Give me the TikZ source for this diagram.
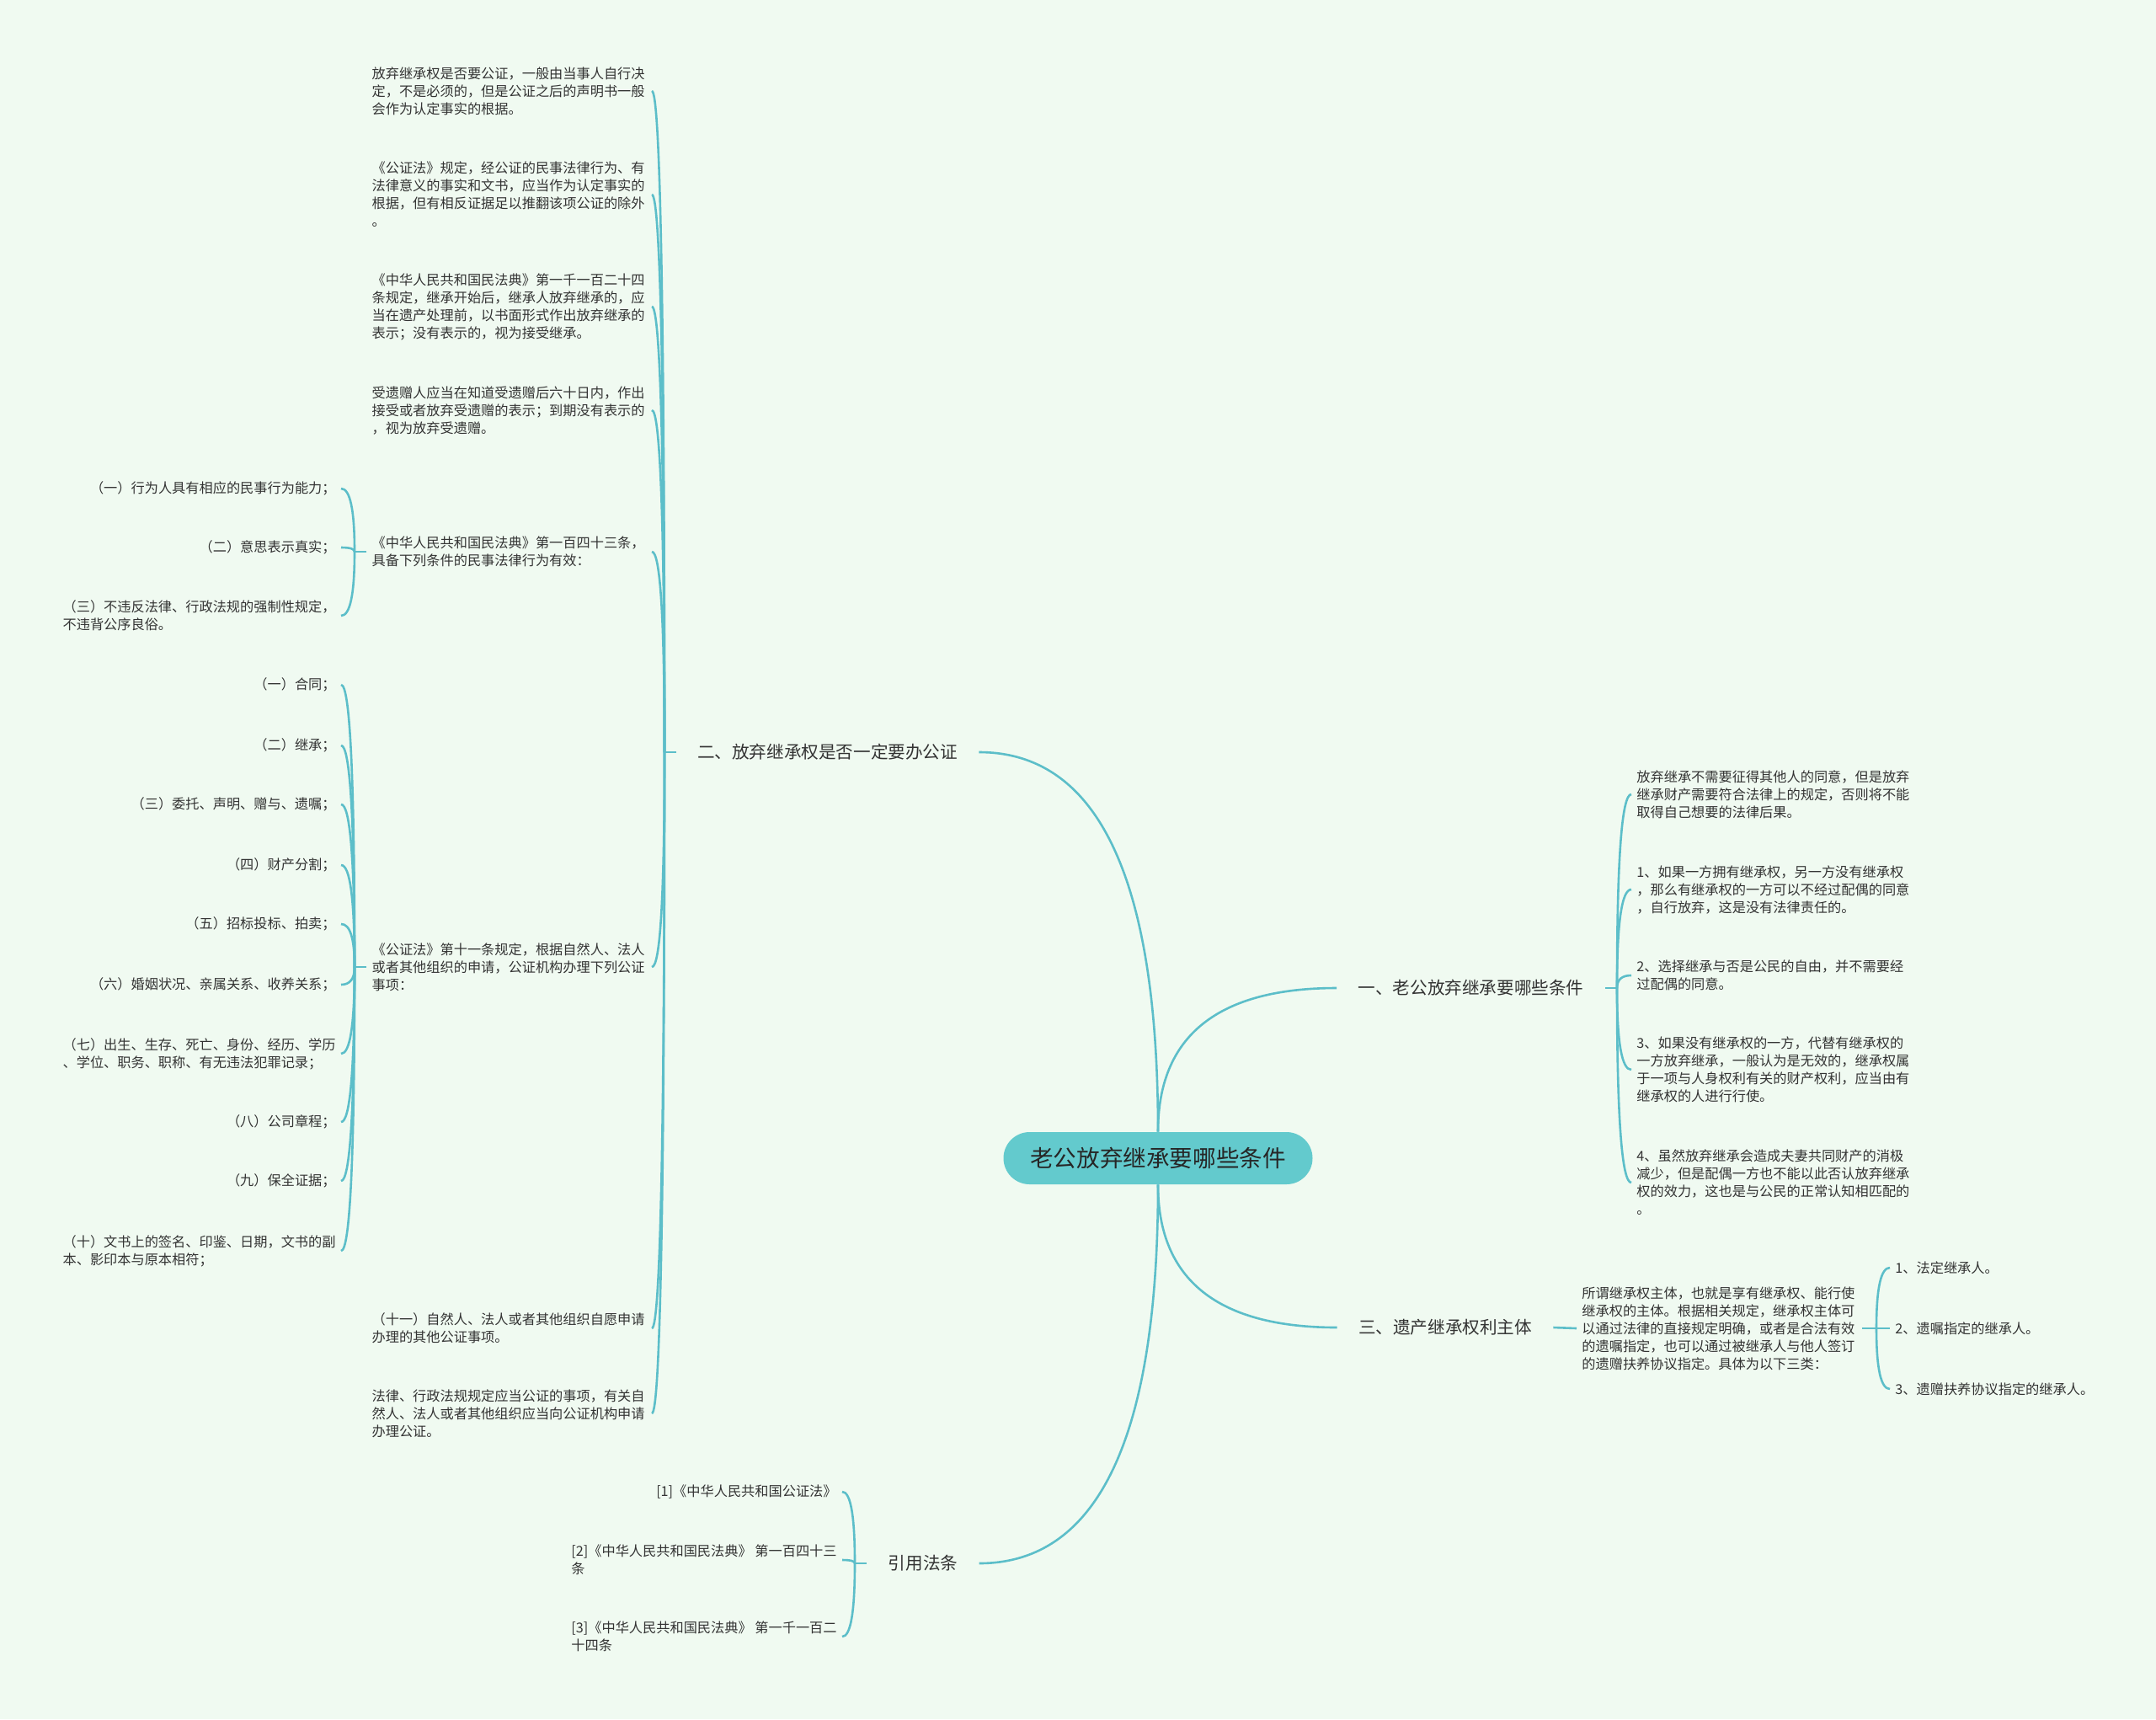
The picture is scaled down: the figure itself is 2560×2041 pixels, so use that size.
\documentclass[tikz,border=0pt]{standalone}
\usepackage{fontspec}
\setmainfont{Noto Sans CJK SC}
\usetikzlibrary{calc}
\definecolor{mint}{RGB}{240,250,241}
\definecolor{twig}{RGB}{92,190,201}
\definecolor{hub}{RGB}{99,202,205}
\definecolor{ink}{RGB}{51,51,51}

\begin{document}
\begin{tikzpicture}[
  x=0.5pt, y=-0.5pt,
  font=\fontsize{8.1}{10.5}\selectfont, text=ink,
  link/.style={draw=twig, line width=1.3pt},
  curvy/.style={to path={.. controls ($(\tikztostart)!2/3!(\tikztostart|-\tikztotarget)$)
      and ($(\tikztotarget)!2/3!(\tikztostart|-\tikztotarget)$) .. (\tikztotarget)}},
  root/.style={fill=hub, rounded corners=15.5pt, minimum width=183.5pt, minimum height=31pt,
    font=\fontsize{13.8}{16}\selectfont, text=black!85},
  branch/.style={inner xsep=12.5pt, font=\fontsize{10.3}{12}\selectfont},
  leaf/.style={inner xsep=3pt, inner ysep=2pt, align=left},
  para/.style={leaf, text width=163pt},
]
\fill[mint] (0,0) rectangle (2560,2041);
\useasboundingbox (0,0) rectangle (2560,2041);

\node[root] (c0) at (1375,1375) {老公放弃继承要哪些条件};

\node[branch] (b2) at (982.5,893) {二、放弃继承权是否一定要办公证};
\node[branch] (b1) at (1746.5,1173) {一、老公放弃继承要哪些条件};
\node[branch] (b3) at (1716,1576) {三、遗产继承权利主体};
\node[branch] (b4) at (1096,1856) {引用法条};

\coordinate (p2) at (789,893);
\coordinate (p1) at (1920,1173);
\coordinate (p4) at (1015,1856);
\coordinate (k25) at (421,655);
\coordinate (k26) at (421,1148);
\coordinate (k3) at (2228,1577);

% 二
\node[para, anchor=east] (c21) at (774,108) {放弃继承权是否要公证，一般由当事人自行决\\定，不是必须的，但是公证之后的声明书一般\\会作为认定事实的根据。};
\node[para, anchor=east] (c22) at (774,231) {《公证法》规定，经公证的民事法律行为、有\\法律意义的事实和文书，应当作为认定事实的\\根据，但有相反证据足以推翻该项公证的除外\\。};
\node[para, anchor=east] (c23) at (774,364) {《中华人民共和国民法典》第一千一百二十四\\条规定，继承开始后，继承人放弃继承的，应\\当在遗产处理前，以书面形式作出放弃继承的\\表示；没有表示的，视为接受继承。};
\node[para, anchor=east] (c24) at (774,487) {受遗赠人应当在知道受遗赠后六十日内，作出\\接受或者放弃受遗赠的表示；到期没有表示的\\，视为放弃受遗赠。};
\node[para, anchor=east] (c25) at (774,655) {《中华人民共和国民法典》第一百四十三条，\\具备下列条件的民事法律行为有效：};
\node[para, anchor=east] (c26) at (774,1148) {《公证法》第十一条规定，根据自然人、法人\\或者其他组织的申请，公证机构办理下列公证\\事项：};
\node[para, anchor=east] (c27) at (774,1577) {（十一）自然人、法人或者其他组织自愿申请\\办理的其他公证事项。};
\node[para, anchor=east] (c28) at (774,1678) {法律、行政法规规定应当公证的事项，有关自\\然人、法人或者其他组织应当向公证机构申请\\办理公证。};

\node[leaf, anchor=east] (a1) at (405,580) {（一）行为人具有相应的民事行为能力；};
\node[leaf, anchor=east] (a2) at (405,650) {（二）意思表示真实；};
\node[leaf, anchor=east] (a3) at (405,731) {（三）不违反法律、行政法规的强制性规定，\\不违背公序良俗。};

\node[leaf, anchor=east] (n1) at (405,813) {（一）合同；};
\node[leaf, anchor=east] (n2) at (405,885) {（二）继承；};
\node[leaf, anchor=east] (n3) at (405,955) {（三）委托、声明、赠与、遗嘱；};
\node[leaf, anchor=east] (n4) at (405,1027) {（四）财产分割；};
\node[leaf, anchor=east] (n5) at (405,1097) {（五）招标投标、拍卖；};
\node[leaf, anchor=east] (n6) at (405,1169) {（六）婚姻状况、亲属关系、收养关系；};
\node[leaf, anchor=east] (n7) at (405,1251) {（七）出生、生存、死亡、身份、经历、学历\\、学位、职务、职称、有无违法犯罪记录；};
\node[leaf, anchor=east] (n8) at (405,1332) {（八）公司章程；};
\node[leaf, anchor=east] (n9) at (405,1402) {（九）保全证据；};
\node[leaf, anchor=east] (n10) at (405,1485) {（十）文书上的签名、印鉴、日期，文书的副\\本、影印本与原本相符；};

% 一
\node[para, anchor=west] (d11) at (1937,943) {放弃继承不需要征得其他人的同意，但是放弃\\继承财产需要符合法律上的规定，否则将不能\\取得自己想要的法律后果。};
\node[para, anchor=west] (d12) at (1937,1056) {1、如果一方拥有继承权，另一方没有继承权\\，那么有继承权的一方可以不经过配偶的同意\\，自行放弃，这是没有法律责任的。};
\node[para, anchor=west] (d13) at (1937,1158) {2、选择继承与否是公民的自由，并不需要经\\过配偶的同意。};
\node[para, anchor=west] (d14) at (1937,1270) {3、如果没有继承权的一方，代替有继承权的\\一方放弃继承，一般认为是无效的，继承权属\\于一项与人身权利有关的财产权利，应当由有\\继承权的人进行行使。};
\node[para, anchor=west] (d15) at (1937,1404) {4、虽然放弃继承会造成夫妻共同财产的消极\\减少，但是配偶一方也不能以此否认放弃继承\\权的效力，这也是与公民的正常认知相匹配的\\。};

% 三
\node[para, anchor=west] (e31) at (1872,1577) {所谓继承权主体，也就是享有继承权、能行使\\继承权的主体。根据相关规定，继承权主体可\\以通过法律的直接规定明确，或者是合法有效\\的遗嘱指定，也可以通过被继承人与他人签订\\的遗赠扶养协议指定。具体为以下三类：};
\node[leaf, anchor=west] (f1) at (2244,1505) {1、法定继承人。};
\node[leaf, anchor=west] (f2) at (2244,1577) {2、遗嘱指定的继承人。};
\node[leaf, anchor=west] (f3) at (2244,1649) {3、遗赠扶养协议指定的继承人。};

% 引用法条
\node[leaf, anchor=east] (r1) at (1000,1771) {[1]《中华人民共和国公证法》};
\node[leaf, anchor=east] (r2) at (1000,1852) {[2]《中华人民共和国民法典》 第一百四十三\\条};
\node[leaf, anchor=east] (r3) at (1000,1943) {[3]《中华人民共和国民法典》 第一千一百二\\十四条};

\draw[link] (c0.north) to[curvy] (b2.east);
\draw[link] (c0.north) to[curvy] (b1.west);
\draw[link] (c0.south) to[curvy] (b3.west);
\draw[link] (c0.south) to[curvy] (b4.east);

\draw[link] (b2.west) -- (p2);
\foreach \n in {c21,c22,c23,c24,c25,c26,c27,c28}
  \draw[link] (p2) to[curvy] (\n.east);
\draw[link] (c25.west) -- (k25);
\foreach \n in {a1,a2,a3}
  \draw[link] (k25) to[curvy] (\n.east);
\draw[link] (c26.west) -- (k26);
\foreach \n in {n1,n2,n3,n4,n5,n6,n7,n8,n9,n10}
  \draw[link] (k26) to[curvy] (\n.east);

\draw[link] (b1.east) -- (p1);
\foreach \n in {d11,d12,d13,d14,d15}
  \draw[link] (p1) to[curvy] (\n.west);

\draw[link] (b3.east) -- (e31.west);
\draw[link] (e31.east) -- (k3);
\foreach \n in {f1,f2,f3}
  \draw[link] (k3) to[curvy] (\n.west);

\draw[link] (b4.west) -- (p4);
\foreach \n in {r1,r2,r3}
  \draw[link] (p4) to[curvy] (\n.east);
\end{tikzpicture}
\end{document}
